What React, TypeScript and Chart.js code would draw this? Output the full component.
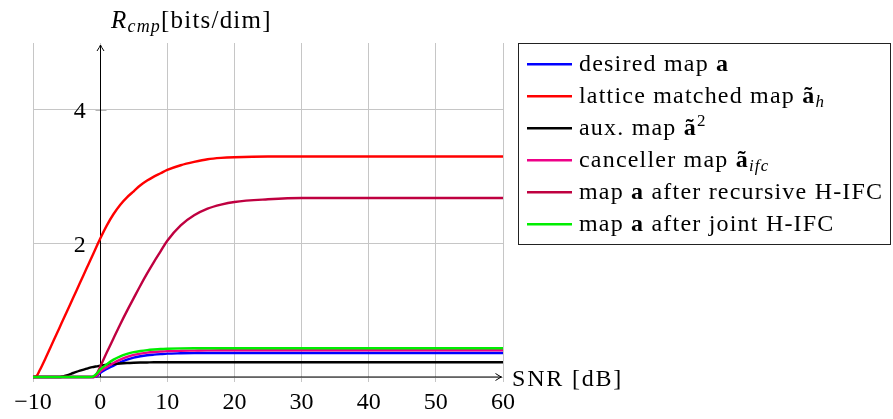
import React, { useEffect, useRef } from "react";
import { Chart, registerables } from "chart.js";

Chart.register(...registerables);

// ---- data ----
const snr = [-10, -9.5, -9, -8, -7, -6, -5.5, -5, -4, -3, -2, -1.5, -1, -0.5, 0, 1, 2, 3, 4, 5, 6, 7, 8, 9, 10, 12, 14, 16, 18, 20, 25, 30, 40, 50, 60];

const desiredMap = [0, 0, 0, 0, 0, 0, 0, 0, 0, 0, 0, 0, 0, 0.01, 0.06, 0.12, 0.17, 0.22, 0.26, 0.29, 0.31, 0.325, 0.335, 0.343, 0.35, 0.355, 0.358, 0.36, 0.36, 0.36, 0.36, 0.36, 0.36, 0.36, 0.36];
const latticeMatched = [0, 0.01, 0.1, 0.31, 0.53, 0.75, 0.86, 0.97, 1.19, 1.41, 1.63, 1.74, 1.85, 1.96, 2.07, 2.27, 2.44, 2.58, 2.69, 2.78, 2.87, 2.94, 3.0, 3.05, 3.1, 3.17, 3.22, 3.26, 3.28, 3.29, 3.3, 3.3, 3.3, 3.3, 3.3];
const auxMap = [0, 0, 0, 0, 0, 0, 0.01, 0.025, 0.06, 0.095, 0.125, 0.14, 0.15, 0.16, 0.17, 0.185, 0.195, 0.203, 0.209, 0.213, 0.216, 0.218, 0.22, 0.22, 0.22, 0.22, 0.22, 0.22, 0.22, 0.22, 0.22, 0.22, 0.22, 0.22, 0.22];
const cancellerMap = [0, 0, 0, 0, 0, 0, 0, 0, 0, 0, 0, 0, 0, 0.02, 0.08, 0.15, 0.21, 0.26, 0.3, 0.33, 0.35, 0.365, 0.375, 0.382, 0.387, 0.392, 0.395, 0.398, 0.4, 0.4, 0.4, 0.4, 0.4, 0.4, 0.4];
const recursiveHIFC = [0, 0, 0, 0, 0, 0, 0, 0, 0, 0, 0, 0, 0, 0.05, 0.15, 0.37, 0.58, 0.79, 0.99, 1.18, 1.37, 1.55, 1.72, 1.88, 2.04, 2.27, 2.42, 2.52, 2.58, 2.62, 2.66, 2.68, 2.68, 2.68, 2.68];
const jointHIFC = [0, 0, 0, 0, 0, 0, 0, 0, 0, 0, 0, 0, 0.01, 0.05, 0.11, 0.19, 0.26, 0.31, 0.345, 0.372, 0.39, 0.403, 0.412, 0.419, 0.423, 0.428, 0.43, 0.43, 0.43, 0.43, 0.43, 0.43, 0.43, 0.43, 0.43];

const xTicks = [-10, 0, 10, 20, 30, 40, 50, 60];
const yTicks = [2, 4];

const seriesValues = [desiredMap, latticeMatched, auxMap, cancellerMap, recursiveHIFC, jointHIFC];
const seriesColors = ["#0000ff", "#ff0000", "#000000", "#ee0088", "#bf0040", "#00ee00"];
const seriesNames = [
  "desired map a",
  "lattice matched map ã_h",
  "aux. map ã^2",
  "canceller map ã_ifc",
  "map a after recursive H-IFC",
  "map a after joint H-IFC",
];

const xTitle = "SNR [dB]";
const yTitleMain = "R";
const yTitleSub = "cmp";
const yTitleUnit = "[bits/dim]";

// ---- rendering helpers ----
const fN = (s: number) => `${s}px "Liberation Serif", serif`;
const fB = (s: number) => `bold ${s}px "Liberation Serif", serif`;
const fI = (s: number) => `italic ${s}px "Liberation Serif", serif`;

type Run = { t: string; font: string; dy?: number };

// draws text glyph by glyph with a small extra advance (no canvas letterSpacing)
function drawRuns(ctx: CanvasRenderingContext2D, x: number, y: number, runs: Run[], ls: number) {
  let cx = x;
  ctx.textAlign = "left";
  ctx.textBaseline = "alphabetic";
  for (const r of runs) {
    ctx.font = r.font;
    for (const ch of Array.from(r.t)) {
      ctx.fillText(ch, cx, y + (r.dy || 0));
      cx += ctx.measureText(ch).width + ls;
    }
  }
}

function legendRuns(name: string): Run[] {
  const S = 24;
  const sub = 17;
  const runs: Run[] = [];
  if (name.startsWith("map a")) {
    runs.push({ t: "map ", font: fN(S) });
    runs.push({ t: "a", font: fB(S) });
    runs.push({ t: name.slice(5), font: fN(S) });
    return runs;
  }
  const m = name.match(/^(.*?)(ã|a)(_(\w+)|\^(\w+))?$/);
  if (!m) return [{ t: name, font: fN(S) }];
  runs.push({ t: m[1], font: fN(S) });
  runs.push({ t: m[2], font: fB(S) });
  if (m[4]) runs.push({ t: m[4], font: fI(sub), dy: 4 });
  if (m[5]) runs.push({ t: m[5], font: fN(sub), dy: -9 });
  return runs;
}

function arrowHead(ctx: CanvasRenderingContext2D, tx: number, ty: number, dir: "up" | "right") {
  ctx.beginPath();
  if (dir === "right") {
    ctx.moveTo(tx - 6, ty - 3.5);
    ctx.quadraticCurveTo(tx - 2, ty - 0.8, tx, ty);
    ctx.quadraticCurveTo(tx - 2, ty + 0.8, tx - 6, ty + 3.5);
  } else {
    ctx.moveTo(tx - 3.5, ty + 6);
    ctx.quadraticCurveTo(tx - 0.8, ty + 2, tx, ty);
    ctx.quadraticCurveTo(tx + 0.8, ty + 2, tx + 3.5, ty + 6);
  }
  ctx.stroke();
}

const overlayPlugin = {
  id: "overlay",
  beforeDatasetsDraw(chart: any) {
    const { ctx, scales } = chart;
    const xs = scales.x;
    const ys = scales.y;
    ctx.save();
    const x0 = Math.round(xs.getPixelForValue(0)) + 0.5;
    const y0 = ys.getPixelForValue(0);
    ctx.strokeStyle = "#b4b4b4";
    ctx.lineWidth = 1;
    for (const t of yTicks) {
      const py = Math.round(ys.getPixelForValue(t)) + 0.5;
      ctx.beginPath();
      ctx.moveTo(x0 - 5, py);
      ctx.lineTo(x0 + 6, py);
      ctx.stroke();
    }
    ctx.strokeStyle = "#000";
    ctx.lineWidth = 1;
    const xr = xs.right - 1.5;
    ctx.beginPath();
    ctx.moveTo(xs.left, y0);
    ctx.lineTo(xr, y0);
    ctx.stroke();
    arrowHead(ctx, xr, y0, "right");
    const yt = ys.top + 2;
    ctx.beginPath();
    ctx.moveTo(x0, y0);
    ctx.lineTo(x0, yt);
    ctx.stroke();
    arrowHead(ctx, x0, yt, "up");
    ctx.restore();
  },
  afterDraw(chart: any) {
    const { ctx, scales } = chart;
    const xs = scales.x;
    const ys = scales.y;
    ctx.save();
    ctx.fillStyle = "#000";
    ctx.font = fN(24);
    ctx.textAlign = "center";
    ctx.textBaseline = "alphabetic";
    for (const t of xTicks) {
      const label = t < 0 ? "\u2212" + Math.abs(t) : String(t);
      ctx.fillText(label, xs.getPixelForValue(t), 409);
    }
    ctx.textAlign = "right";
    for (const t of yTicks) {
      ctx.fillText(String(t), xs.getPixelForValue(0) - 14.5, ys.getPixelForValue(t) + 8.5);
    }
    drawRuns(ctx, xs.right + 9, 386, [{ t: xTitle, font: fN(24) }], 1.8);
    drawRuns(
      ctx,
      111,
      28,
      [
        { t: yTitleMain, font: fI(25) },
        { t: yTitleSub, font: fI(18), dy: 4 },
        { t: yTitleUnit, font: fN(25) },
      ],
      1.2
    );
    const bx = 518.5, by = 43.5, bw = 372, bh = 201;
    ctx.fillStyle = "#fff";
    ctx.fillRect(bx, by, bw, bh);
    ctx.strokeStyle = "#222";
    ctx.lineWidth = 1;
    ctx.strokeRect(bx, by, bw, bh);
    seriesNames.forEach((name, i) => {
      const rowY = 64.3 + i * 32;
      ctx.strokeStyle = seriesColors[i];
      ctx.lineWidth = 2.4;
      ctx.beginPath();
      ctx.moveTo(527, rowY);
      ctx.lineTo(572, rowY);
      ctx.stroke();
      ctx.fillStyle = "#000";
      drawRuns(ctx, 579, rowY + 6.7, legendRuns(name), 1.2);
    });
    ctx.restore();
  },
};

export default function App() {
  const ref = useRef<HTMLCanvasElement | null>(null);
  useEffect(() => {
    document.body.style.margin = "0";
    const canvas = ref.current;
    if (!canvas) return;
    const chart = new Chart(canvas, {
      type: "line",
      data: {
        datasets: seriesValues.map((vals, i) => ({
          label: seriesNames[i],
          data: snr.map((x, k) => ({ x, y: vals[k] })),
          borderColor: seriesColors[i],
          backgroundColor: seriesColors[i],
          borderWidth: 2.4,
          pointRadius: 0,
          cubicInterpolationMode: "monotone" as const,
          fill: false,
          clip: false as any,
          order: seriesValues.length - i,
        })),
      },
      options: {
        responsive: false,
        maintainAspectRatio: false,
        animation: false,
        events: [],
        layout: { padding: { left: 33, right: 390, top: 43, bottom: 37 } },
        plugins: { legend: { display: false }, tooltip: { enabled: false } },
        scales: {
          x: {
            type: "linear",
            min: -10,
            max: 60,
            afterBuildTicks: (s: any) => {
              s.ticks = xTicks.map((v) => ({ value: v }));
            },
            ticks: { display: false },
            border: { display: false },
            grid: { color: "#c6c6c6", lineWidth: 1, drawTicks: true, tickLength: 5 },
          },
          y: {
            type: "linear",
            min: 0,
            max: 5,
            afterBuildTicks: (s: any) => {
              s.ticks = [0, ...yTicks].map((v) => ({ value: v }));
            },
            ticks: { display: false },
            border: { display: false },
            grid: { color: "#c6c6c6", lineWidth: 1, drawTicks: false },
          },
        },
      },
      plugins: [overlayPlugin],
    });
    return () => chart.destroy();
  }, []);
  return (
    <div style={{ width: 893, height: 419, background: "#fff" }}>
      <canvas ref={ref} width={893} height={419} style={{ display: "block", width: 893, height: 419 }} />
    </div>
  );
}
